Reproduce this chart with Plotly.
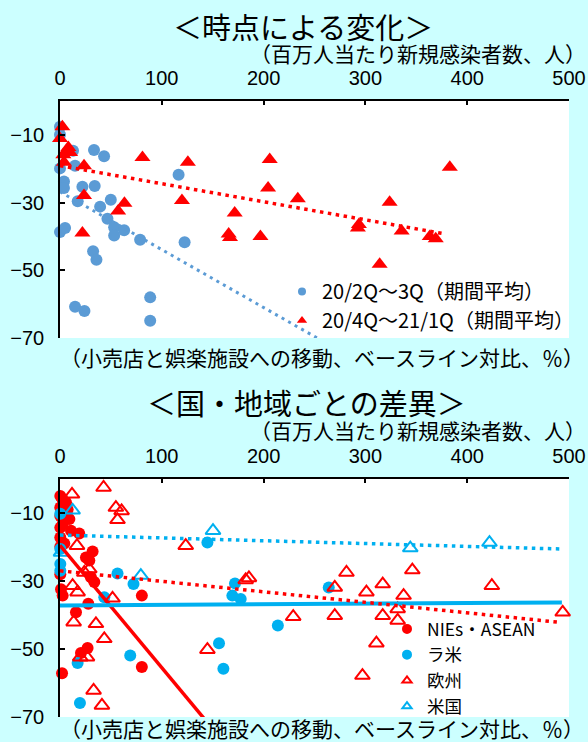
import plotly.graph_objects as go

# ---------------- data: top chart (時点による変化) ----------------
q23_name = "20/2Q～3Q（期間平均）"
q23_x = [0, 0, 12.8, 33.4, 43.3, 0, 14.8, 3.9, 3.9, 22, 34.1, 17.4, 49.9, 39.4, 46.6,
         53.2, 53.2, 63, 0, 5, 78.7, 116.5, 122.4, 32.5, 35.8, 14.8, 24, 88.6, 88.6]
q23_y = [-7.6, -10, -14.7, -14.5, -16.3, -19.9, -19.1, -23.8, -25.7, -25.3, -25.1, -29.6, -29.2, -31.2, -34.8,
         -37.3, -39.7, -38.2, -38.7, -37.5, -41, -21.8, -41.7, -44.4, -46.9, -60.8, -62, -58, -64.9]

q41_name = "20/4Q～21/1Q（期間平均）"
q41_x = [2.3, 0, 8.2, 9.9, 3.3, 3.9, 23.6, 81, 125.6, 23.6, 22, 57.1, 63.3, 119.8, 171.6,
         165.7, 167, 196.9, 206, 204.4, 233.6, 293.6, 292.6, 323.8, 335.6, 363.2, 369.1, 382.9, 314]
q41_y = [-7.6, -11.1, -13.7, -15.2, -15.9, -18.1, -19.1, -16.7, -18.1, -27.9, -39, -32.5, -30.2, -29.4, -33.1,
         -39.3, -40.3, -40, -17.3, -25.7, -28.9, -36.5, -37.5, -29.9, -38.4, -40, -40.7, -19.6, -48.2]

# linear trend lines: [intercept, slope], x span
q23_trend = [-26.8, -0.171]
q23_trend_x = [0, 260]
q41_trend = [-19.1, -0.0533]
q41_trend_x = [0, 378]

# ---------------- data: bottom chart (国・地域ごとの差異) ----------------
nies_name = "NIEs・ASEAN"
nies_x = [0.3, 2.6, 5.9, 0.3, 7.5, 0.3, 9.2, 2.6, 0.3, 10.8, 18.9, 0.3, 4.2, 0.3, 32, 25.5, 28.8,
          30.4, 33.7, 0.3, 1, 2.6, 27.8, 15.7, 80.4, 27.1, 20.6, 2, 80.4]
nies_y = [-5, -6, -6.9, -8.4, -9, -10.9, -11.8, -13.3, -14.3, -15.2, -16, -17.2, -19, -19.9, -21.3, -23.1, -24,
          -28.9, -30.3, -28, -32.4, -34.3, -36.7, -39.2, -34.3, -49.7, -51.2, -57.1, -55.3]

latam_name = "ラ米"
latam_x = [0.3, 0.3, 0.3, 0.3, 43.5, 56.5, 72.2, 17.3, 19.6, 69, 144.8, 156.2, 160.5, 171.9, 169.3, 177.5, 214, 264]
latam_y = [-10.2, -20.6, -25, -27, -34.8, -27.8, -30.9, -54.1, -65.9, -51.9, -18.7, -48.3, -55.8, -30.7, -34.3, -35.3, -43.1, -31.9]

eu_name = "欧州"
eu_x = [42.8, 11.8, 54.9, 60.5, 56.5, 123.5, 16.7, 23.9, 28.8, 12.4, 17.3, 51.6, 13.4, 35.3, 43.5, 19.9, 26.5,
        33, 41.2, 144.8, 182.4, 185.6, 229.1, 269.9, 269.9, 281.4, 301, 317, 317, 310.8, 297.1, 331.7, 331.7,
        337.5, 346.1, 424.2, 493.8]
eu_y = [-2.5, -4.5, -8.4, -9.4, -12, -19.6, -19.6, -27.5, -26.5, -31.4, -33.3, -35.1, -42.1, -42.6, -47, -52.4, -52.4,
        -62.2, -66.6, -50.2, -29.7, -29.1, -40.5, -40.2, -31.9, -27.5, -33.3, -30.9, -40.2, -48.3, -57.8, -38.2, -41.6,
        -34.3, -26.8, -31.4, -39.2]

us_name = "米国"
us_x = [12.4, 1, 79.4, 150.3, 344.1, 421.9]
us_y = [-9.2, -21.6, -28.4, -15.2, -20.3, -18.7]

nies_trend = [-19.5, -0.36]
nies_trend_x = [0, 160]
latam_trend = [-37.2, 0.0018]
latam_trend_x = [0, 493]
eu_trend = [-27.0, -0.0309]
eu_trend_x = [0, 490]
us_trend = [-16.5, -0.0083]
us_trend_x = [0, 493]

x_ticks = [0, 100, 200, 300, 400, 500]
y_ticks = [-10, -30, -50, -70]

# ---------------- styling ----------------
BG = "#CCFFFF"
RED = "#FF0000"
BLUE1 = "#5B9BD5"
BLUE2 = "#00B0F0"
JP = "Noto Sans CJK JP"
NUM = "Liberation Sans, Noto Sans CJK JP"
W, H = 588, 742


def px_x(v):
    return v / W


def px_y(v):
    return 1 - v / H


def trend(coef, xs):
    return [coef[0] + coef[1] * x for x in xs]


fig = go.Figure()

# top chart
fig.add_trace(go.Scatter(x=q23_x, y=q23_y, mode="markers", xaxis="x", yaxis="y",
                         marker=dict(color=BLUE1, size=12, line=dict(width=0)),
                         showlegend=False, cliponaxis=False, name=q23_name))
fig.add_trace(go.Scatter(x=q41_x, y=q41_y, mode="markers", xaxis="x", yaxis="y",
                         marker=dict(color=RED, size=14, symbol="triangle-up", line=dict(width=0)),
                         showlegend=False, cliponaxis=False, name=q41_name))
fig.add_trace(go.Scatter(x=q23_trend_x, y=trend(q23_trend, q23_trend_x), mode="lines", xaxis="x", yaxis="y",
                         line=dict(color=BLUE1, width=3, dash="3px,4.5px"), showlegend=False, hoverinfo="skip"))
fig.add_trace(go.Scatter(x=q41_trend_x, y=trend(q41_trend, q41_trend_x), mode="lines", xaxis="x", yaxis="y",
                         line=dict(color=RED, width=3.5, dash="3.5px,4.5px"), showlegend=False, hoverinfo="skip"))
# top legend entries
fig.add_trace(go.Scatter(x=[None], y=[None], mode="markers", xaxis="x", yaxis="y", name=q23_name,
                         marker=dict(color=BLUE1, size=8), legend="legend"))
fig.add_trace(go.Scatter(x=[None], y=[None], mode="markers", xaxis="x", yaxis="y", name=q41_name,
                         marker=dict(color=RED, size=9, symbol="triangle-up"), legend="legend"))

# bottom chart
fig.add_trace(go.Scatter(x=nies_x, y=nies_y, mode="markers", xaxis="x2", yaxis="y2",
                         marker=dict(color=RED, size=12, line=dict(width=0)),
                         showlegend=False, cliponaxis=False, name=nies_name))
fig.add_trace(go.Scatter(x=latam_x, y=latam_y, mode="markers", xaxis="x2", yaxis="y2",
                         marker=dict(color=BLUE2, size=12, line=dict(width=0)),
                         showlegend=False, cliponaxis=False, name=latam_name))
fig.add_trace(go.Scatter(x=eu_x, y=eu_y, mode="markers", xaxis="x2", yaxis="y2",
                         marker=dict(color=RED, size=13, symbol="triangle-up-open", line=dict(width=2, color=RED)),
                         showlegend=False, cliponaxis=False, name=eu_name))
fig.add_trace(go.Scatter(x=us_x, y=us_y, mode="markers", xaxis="x2", yaxis="y2",
                         marker=dict(color=BLUE2, size=13, symbol="triangle-up-open", line=dict(width=2, color=BLUE2)),
                         showlegend=False, cliponaxis=False, name=us_name))
fig.add_trace(go.Scatter(x=nies_trend_x, y=trend(nies_trend, nies_trend_x), mode="lines", xaxis="x2", yaxis="y2",
                         line=dict(color=RED, width=3.5), showlegend=False, hoverinfo="skip"))
fig.add_trace(go.Scatter(x=latam_trend_x, y=trend(latam_trend, latam_trend_x), mode="lines", xaxis="x2", yaxis="y2",
                         line=dict(color=BLUE2, width=4), showlegend=False, hoverinfo="skip"))
fig.add_trace(go.Scatter(x=eu_trend_x, y=trend(eu_trend, eu_trend_x), mode="lines", xaxis="x2", yaxis="y2",
                         line=dict(color=RED, width=3.5, dash="3.5px,4.5px"), showlegend=False, hoverinfo="skip"))
fig.add_trace(go.Scatter(x=us_trend_x, y=trend(us_trend, us_trend_x), mode="lines", xaxis="x2", yaxis="y2",
                         line=dict(color=BLUE2, width=3.5, dash="3.5px,4.5px"), showlegend=False, hoverinfo="skip"))
# bottom legend entries
for nm, col, sym in [(nies_name, RED, "circle"), (latam_name, BLUE2, "circle"),
                     (eu_name, RED, "triangle-up-open"), (us_name, BLUE2, "triangle-up-open")]:
    fig.add_trace(go.Scatter(x=[None], y=[None], mode="markers", xaxis="x2", yaxis="y2", name=nm,
                             marker=dict(color=col, size=8, symbol=sym, line=dict(width=2, color=col)),
                             legend="legend2"))

axis_common = dict(showgrid=False, zeroline=False, showline=True, linecolor="black", linewidth=1.5,
                   ticks="inside", tickcolor="black", tickwidth=1.5, layer="above traces",
                   tickfont=dict(family=NUM, size=20, color="black"), fixedrange=True, automargin=False)

xdom = [px_x(60), px_x(569)]
fig.update_layout(
    width=W, height=H, autosize=False,
    margin=dict(l=0, r=0, t=0, b=0, pad=0, autoexpand=False),
    paper_bgcolor=BG, plot_bgcolor="white",
    font=dict(family=JP, size=19, color="black"),
    xaxis=dict(domain=xdom, range=[0, 500], side="top", anchor="y", tickvals=x_ticks, ticklen=4,
               ticklabelstandoff=6, **axis_common),
    yaxis=dict(domain=[px_y(338), px_y(101)], range=[-70, 0], anchor="x", tickvals=y_ticks, ticklen=5,
               ticklabelstandoff=10, **axis_common),
    xaxis2=dict(domain=xdom, range=[0, 500], side="top", anchor="y2", tickvals=x_ticks, ticklen=4,
                ticklabelstandoff=6, **axis_common),
    yaxis2=dict(domain=[px_y(717), px_y(479)], range=[-70, 0], anchor="x2", tickvals=y_ticks, ticklen=5,
                ticklabelstandoff=10, **axis_common),
    legend=dict(x=px_x(282), y=px_y(272), xanchor="left", yanchor="top", bgcolor="rgba(0,0,0,0)",
                font=dict(family=JP, size=20, color="black"), itemsizing="trace"),
    legend2=dict(x=px_x(387), y=px_y(611), xanchor="left", yanchor="top", bgcolor="rgba(0,0,0,0)",
                 font=dict(family=JP, size=17.5, color="black"), itemsizing="trace"),
    showlegend=True,
)

texts = [
    ("＜時点による変化＞", 303, 26, 29, "center"),
    ("（百万人当たり新規感染者数、人）", 588, 53, 21, "right"),
    ("（小売店と娯楽施設への移動、ベースライン対比、％）", 322, 357, 21, "center"),
    ("＜国・地域ごとの差異＞", 306, 402, 29, "center"),
    ("（百万人当たり新規感染者数、人）", 588, 430, 21, "right"),
    ("（小売店と娯楽施設への移動、ベースライン対比、％）", 322, 728, 21, "center"),
]
for t, x, y, s, anc in texts:
    fig.add_annotation(text=t, x=px_x(x), y=px_y(y), xref="paper", yref="paper", showarrow=False,
                       xanchor=anc, yanchor="middle", font=dict(family=JP, size=s, color="black"))

fig.write_html("out.html",
               config={"displayModeBar": False},
               post_script="document.body.style.margin='0';document.body.style.padding='0';"
                           "document.body.style.overflow='hidden';")
